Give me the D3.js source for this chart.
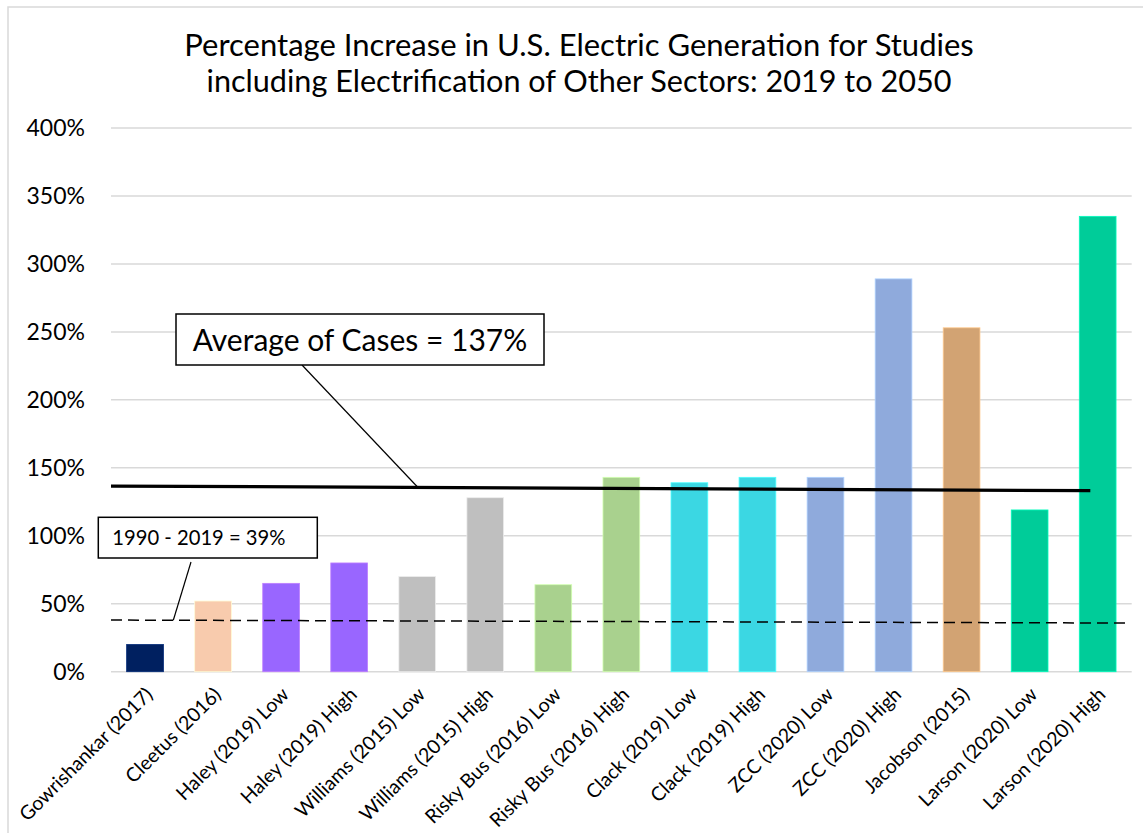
<!DOCTYPE html>
<html>
<head>
<meta charset="utf-8">
<script src="https://cdn.jsdelivr.net/npm/d3@7"></script>
<style>
  html, body { margin: 0; padding: 0; background: #fff; }
  svg { display: block; font-family: Lato, "Open Sans", sans-serif; }
</style>
</head>
<body>
<svg id="chart" width="1143" height="833"></svg>
<script>
// ---- data ----
const categories = [
  "Gowrishankar (2017)", "Cleetus (2016)", "Haley (2019) Low", "Haley (2019) High",
  "Williams (2015) Low", "Williams (2015) High", "Risky Bus (2016) Low", "Risky Bus (2016) High",
  "Clack (2019) Low", "Clack (2019) High", "ZCC (2020) Low", "ZCC (2020) High",
  "Jacobson (2015)", "Larson (2020) Low", "Larson (2020) High"
];
const values = [20, 52, 65, 80, 70, 128, 64, 143, 139, 143, 143, 289, 253, 119, 335];
const barColors = [
  "#002060", "#F8CBAD", "#9966FF", "#9966FF", "#BFBFBF", "#BFBFBF", "#A9D18E", "#A9D18E",
  "#3BD7E3", "#3BD7E3", "#8FAADC", "#8FAADC", "#D2A373", "#00CC99", "#00CC99"
];
const yTicks = [0, 50, 100, 150, 200, 250, 300, 350, 400];
const titleLines = [
  "Percentage Increase in U.S. Electric Generation for Studies",
  "including Electrification of Other Sectors: 2019 to 2050"
];
const averageLine = [136.6, 133.2];   // drawn average line (left end, right end)
const historicLine = [38, 35.8];      // dashed 1990-2019 line (left end, right end)
const averageLabel = "Average of Cases = 137%";
const historicLabel = "1990 - 2019 = 39%";

// ---- layout ----
const W = 1143, H = 833;
const margin = { top: 128, right: 11.3, bottom: 161.3, left: 111 };
const innerW = W - margin.left - margin.right;
const innerH = H - margin.top - margin.bottom;

const svg = d3.select("#chart");

// chart border (light)
svg.append("path")
  .attr("d", `M8,${H} L8,7 L${W},7`)
  .attr("fill", "none").attr("stroke", "#D9D9D9").attr("stroke-width", 1.5);

// title
svg.append("g").selectAll("text").data(titleLines).join("text")
  .attr("x", 579).attr("y", (d, i) => 56 + i * 36)
  .attr("text-anchor", "middle")
  .attr("font-size", (d, i) => i === 0 ? 31 : 30.6).attr("fill", "#000")
  .text(d => d);

const g = svg.append("g").attr("transform", `translate(${margin.left},${margin.top})`);

const x = d3.scaleBand().domain(categories).range([0, innerW]).paddingInner(0.46).paddingOuter(0.23);
const y = d3.scaleLinear().domain([0, 400]).range([innerH, 0]);

// gridlines
g.append("g").selectAll("line").data(yTicks).join("line")
  .attr("x1", 0).attr("x2", innerW)
  .attr("y1", d => y(d)).attr("y2", d => y(d))
  .attr("stroke", "#D9D9D9").attr("stroke-width", 1.5);

// y axis labels
const yAxis = d3.axisLeft(y).tickValues(yTicks).tickFormat(d => d + "%").tickSize(0).tickPadding(26);
const ya = g.append("g").call(yAxis);
ya.select(".domain").remove();
ya.selectAll("text").attr("font-size", 23).attr("fill", "#000").attr("font-family", "Lato, sans-serif");

// bars
g.append("g").selectAll("rect").data(values).join("rect")
  .attr("x", (d, i) => x(categories[i]))
  .attr("y", d => y(d))
  .attr("width", x.bandwidth())
  .attr("height", d => innerH - y(d))
  .attr("fill", (d, i) => barColors[i])
  .attr("stroke", (d, i) => d3.color(barColors[i]).brighter(0.6))
  .attr("stroke-width", 0.8);

// x axis labels
const xAxis = d3.axisBottom(x).tickSize(0).tickPadding(0);
const xa = g.append("g").attr("transform", `translate(0,${innerH})`).call(xAxis);
xa.select(".domain").remove();
xa.selectAll("text")
  .attr("font-size", 19.5).attr("fill", "#000").attr("font-family", "Lato, sans-serif")
  .attr("text-anchor", "end")
  .attr("dy", 0)
  .attr("transform", "translate(9,24) rotate(-45)");

// dashed historic line
const xLeft = 0, xRightDash = innerW - 5;
g.append("line")
  .attr("x1", xLeft).attr("x2", xRightDash)
  .attr("y1", y(historicLine[0])).attr("y2", y(historicLine[1]))
  .attr("stroke", "#000").attr("stroke-width", 1.5).attr("stroke-dasharray", "11,6");

// average line
const lastCat = categories[categories.length - 1];
const xRightAvg = x(lastCat) + x.bandwidth() * 0.3;
g.append("line")
  .attr("x1", xLeft).attr("x2", xRightAvg)
  .attr("y1", y(averageLine[0])).attr("y2", y(averageLine[1]))
  .attr("stroke", "#000").attr("stroke-width", 3.2);

// helper: y along a sloped line
function yOn(line, xEnd, xp) {
  const t = xp / xEnd;
  return y(line[0] + (line[1] - line[0]) * t);
}

// average callout box
const avgBox = { x: 65, y: 186, w: 368, h: 51 };
const avgAnchorX = 307;
g.append("line")
  .attr("x1", 191).attr("y1", avgBox.y + avgBox.h)
  .attr("x2", avgAnchorX).attr("y2", yOn(averageLine, xRightAvg, avgAnchorX))
  .attr("stroke", "#000").attr("stroke-width", 1.2);
g.append("rect")
  .attr("x", avgBox.x).attr("y", avgBox.y).attr("width", avgBox.w).attr("height", avgBox.h)
  .attr("fill", "#fff").attr("stroke", "#000").attr("stroke-width", 1.5);
g.append("text")
  .attr("x", avgBox.x + avgBox.w / 2).attr("y", avgBox.y + 37)
  .attr("text-anchor", "middle").attr("font-size", 30).attr("fill", "#000")
  .text(averageLabel);

// historic callout box
const hBox = { x: -12.7, y: 389.3, w: 219, h: 40.7 };
const hAnchorX = 62.3;
g.append("line")
  .attr("x1", 80).attr("y1", hBox.y + hBox.h + 4)
  .attr("x2", hAnchorX).attr("y2", yOn(historicLine, xRightDash, hAnchorX))
  .attr("stroke", "#000").attr("stroke-width", 1.2);
g.append("rect")
  .attr("x", hBox.x).attr("y", hBox.y).attr("width", hBox.w).attr("height", hBox.h)
  .attr("fill", "#fff").attr("stroke", "#000").attr("stroke-width", 1.5);
g.append("text")
  .attr("x", hBox.x + 14).attr("y", hBox.y + 28)
  .attr("font-size", 20.2).attr("fill", "#000")
  .text(historicLabel);
</script>
</body>
</html>
